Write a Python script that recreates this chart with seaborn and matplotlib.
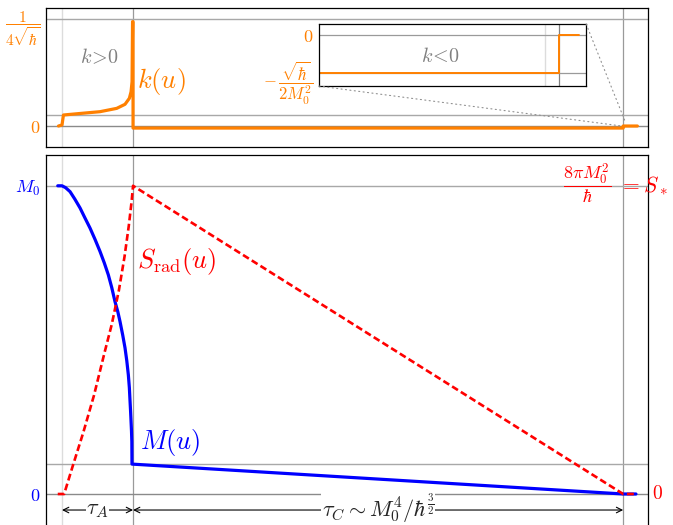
import matplotlib
matplotlib.use('Agg')
import matplotlib.pyplot as plt
import matplotlib.transforms as mtransforms
from matplotlib.patches import ConnectionPatch
import seaborn as sns

# curve data (u in units of tau_A, values in units of the top label)
u_k = [-0.05, 0.0, 0.02, 0.3, 0.535, 0.77, 0.887, 0.948, 0.972, 0.986, 0.993, 1.0, 1.0, 7.9, 7.9, 8.1]
k_u = [0.0, 0.01, 0.103, 0.12, 0.134, 0.165, 0.203, 0.259, 0.32, 0.414, 0.975, 0.975, -0.019, -0.019, 0.0, 0.0]

u_M = [-0.06, 0.0, 0.05, 0.113, 0.18, 0.254, 0.32, 0.394, 0.465, 0.535, 0.595, 0.652, 0.70,
       0.746, 0.785, 0.817, 0.855, 0.887, 0.912, 0.934, 0.948, 0.958, 0.966, 0.972, 0.978,
       0.983, 0.985, 7.9, 8.08]
M_u = [1.0, 1.0, 0.994, 0.981, 0.957, 0.928, 0.897, 0.863, 0.826, 0.787, 0.750, 0.711, 0.670,
       0.624, 0.592, 0.559, 0.515, 0.474, 0.432, 0.386, 0.345, 0.300, 0.265, 0.235, 0.205,
       0.17, 0.097, 0.0, 0.0]

u_S = [-0.06, 0.03, 0.15, 0.3, 0.45, 0.6, 0.7, 0.8, 0.88, 0.94, 0.98, 1.0, 7.9, 8.06]
S_u = [0.0, 0.0, 0.09, 0.2, 0.32, 0.46, 0.55, 0.66, 0.77, 0.87, 0.95, 1.0, 0.0, 0.0]

tau_A = 1.0
t_end = 7.9
k_top, k_small, k_neg = 1.0, 0.103, -0.019
M_small = 0.097

ORANGE = '#ff8000'
BLUE = '#0000ff'
RED = '#ff0000'
GRAY = '#808080'

sns.set_style('white')
plt.rcParams['mathtext.fontset'] = 'cm'
plt.rcParams['font.family'] = ['DejaVu Serif']

fig = plt.figure(figsize=(6.73, 5.25), dpi=100)
ax_k = fig.add_axes([0.0684, 0.72, 0.8945, 0.2648])
ax_m = fig.add_axes([0.0684, 0.0, 0.8945, 0.7048])
ax_in = fig.add_axes([0.474, 0.836, 0.397, 0.118])


def grid(ax, hs, vs):
    ax.axvline(0, color='#dcdcdc', lw=1.0, zorder=0)
    for v in vs:
        ax.axvline(v, color='#9a9a9a', lw=0.9, zorder=0)
    for h, c in hs:
        ax.axhline(h, color=c, lw=1.0, zorder=0)


def frame(ax):
    for s in ax.spines.values():
        s.set_color('black')
        s.set_linewidth(0.9)
    ax.set_xticks([])
    ax.tick_params(axis='y', length=0, pad=4)
    ax.set_xlabel('')
    ax.set_ylabel('')


# --- top panel: k(u)
grid(ax_k, [(k_top, '#a8a8a8'), (k_small, '#a8a8a8'), (0, '#8a8a8a')], [tau_A, t_end])
sns.lineplot(x=u_k, y=k_u, ax=ax_k, color=ORANGE, lw=2.3, sort=False, estimator=None)
ax_k.set_xlim(-0.225, 8.25)
ax_k.set_ylim(-0.196, 1.103)
ax_k.set_yticks([0, k_top])
ax_k.set_yticklabels(['$0$', r'$\dfrac{1}{4\sqrt{\hbar}}$'], fontsize=11)
ax_k.get_yticklabels()[0].set_fontsize(13)
for t in ax_k.get_yticklabels():
    t.set_color(ORANGE)
frame(ax_k)
ax_k.text(0.52, 0.645, '$k\\!>\\!0$', color=GRAY, fontsize=14.5, ha='center', va='center')
ax_k.text(1.06, 0.42, '$k(u)$', color=ORANGE, fontsize=19, ha='left', va='center')

# inset on the negative plateau
ax_in.axvline(7.76, color='#dcdcdc', lw=1.0, zorder=0)
ax_in.axvline(t_end, color='#808080', lw=0.9, zorder=0)
ax_in.axhline(0, color='#9a9a9a', lw=0.9, zorder=0)
ax_in.axhline(k_neg, color='#9a9a9a', lw=0.9, zorder=0)
sns.lineplot(x=u_k, y=k_u, ax=ax_in, color=ORANGE, lw=1.4, sort=False, estimator=None)
ax_in.set_xlim(5.52, 8.17)
ax_in.set_ylim(-0.0255, 0.0055)
ax_in.set_yticks([k_neg, 0])
ax_in.set_yticklabels([r'$-\,\dfrac{\sqrt{\hbar}}{2M_0^2}$', '$0$'], fontsize=12)
ax_in.get_yticklabels()[1].set_fontsize(13)
for t in ax_in.get_yticklabels():
    t.set_color(ORANGE)
frame(ax_in)
ax_in.text(0.453, 0.484, '$k\\!<\\!0$', color=GRAY, fontsize=14.5, ha='center', va='center',
           transform=ax_in.transAxes)

for xa, xb in [((0, 0), (7.88, 0.0)), ((1, 1), (7.92, 0.056))]:
    con = ConnectionPatch(xyA=xa, coordsA=ax_in.transAxes, xyB=xb, coordsB=ax_k.transData,
                          ls=(0, (1, 3)), color='#909090', lw=0.8)
    fig.add_artist(con)

# --- bottom panel: M(u) and S_rad(u)
grid(ax_m, [(1.0, '#a8a8a8'), (M_small, '#a8a8a8'), (0, '#8a8a8a')], [tau_A, t_end])
sns.lineplot(x=u_M, y=M_u, ax=ax_m, color=BLUE, lw=2.3, sort=False, estimator=None)
sns.lineplot(x=u_S, y=S_u, ax=ax_m, color=RED, lw=1.9, sort=False, estimator=None,
             dashes=False)
ax_m.lines[-1].set_dashes((2.6, 1.3))
ax_m.set_xlim(-0.225, 8.25)
ax_m.set_ylim(-0.1006, 1.10)
ax_m.set_yticks([0, 1])
ax_m.set_yticklabels(['$0$', '$M_0$'], fontsize=13)
for t in ax_m.get_yticklabels():
    t.set_color(BLUE)
frame(ax_m)
ax_m.spines['bottom'].set_visible(False)

ax_m.text(1.06, 0.753, r'$S_{\rm rad}(u)$', color=RED, fontsize=19, ha='left', va='center')
ax_m.text(1.1, 0.166, '$M(u)$', color=BLUE, fontsize=19, ha='left', va='center')
ax_m.text(7.39, 0.985, r'$\dfrac{8\pi M_0^2}{\hbar}$', color=RED, fontsize=13,
          ha='center', va='baseline')
ax_m.text(7.84, 0.982, r'$=S_*$', color=RED, fontsize=15.5, ha='left', va='baseline')
blend = mtransforms.blended_transform_factory(ax_m.transAxes, ax_m.transData)
ax_m.text(1.007, 0, '$0$', color=RED, fontsize=14, ha='left', va='center', transform=blend)

y_arr = -0.052
for a, b, lab in [(0, tau_A, r'$\tau_A$'), (tau_A, t_end, r'$\tau_C\sim M_0^4/\hbar^{\frac{3}{2}}$')]:
    ax_m.annotate('', xy=(a, y_arr), xytext=(b, y_arr),
                  arrowprops=dict(arrowstyle='<->', color='black', lw=0.8,
                                  shrinkA=0, shrinkB=0))
    ax_m.text((a + b) / 2, y_arr + 0.004, lab, fontsize=16, ha='center', va='center',
              bbox=dict(fc='white', ec='none', pad=0.3))

fig.savefig('out.png', dpi=100)
